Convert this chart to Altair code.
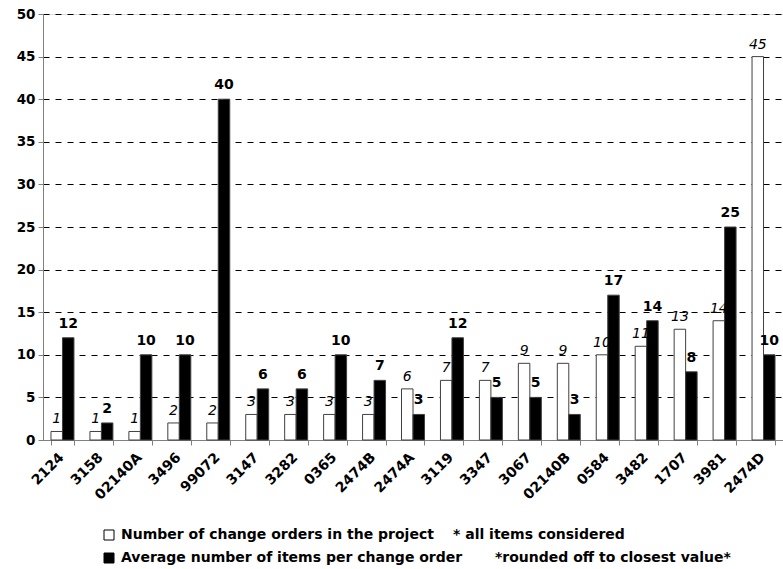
import altair as alt
import pandas as pd

projects = ["2124", "3158", "02140A", "3496", "99072", "3147", "3282", "0365", "2474B",
            "2474A", "3119", "3347", "3067", "02140B", "0584", "3482", "1707", "3981", "2474D"]
change_orders = [1, 1, 1, 2, 2, 3, 3, 3, 3, 6, 7, 7, 9, 9, 10, 11, 13, 14, 45]
items_per_order = [12, 2, 10, 10, 40, 6, 6, 10, 7, 3, 12, 5, 5, 3, 17, 14, 8, 25, 10]

s1 = "Number of change orders in the project"
s2 = "Average number of items per change order"
note1 = "* all items considered"
note2 = "*rounded off to closest value*"

rows = []
for p, a, b in zip(projects, change_orders, items_per_order):
    rows.append({"project": p, "series": s1, "value": a})
    rows.append({"project": p, "series": s2, "value": b})
df = pd.DataFrame(rows)

FONT = "DejaVu Sans"
FS = 14

x = alt.X("project:N", sort=projects, title=None,
          scale=alt.Scale(paddingInner=0.41, paddingOuter=0.205),
          axis=alt.Axis(labelAngle=-45, labelFont=FONT, labelFontSize=FS, labelFontWeight="bold",
                        labelColor="black", domainColor="#808080", tickColor="#808080",
                        tickBand="extent", tickSize=5, labelPadding=5, labelOffset=-6,
                        labelAlign="right", labelBaseline="top"))
xo = alt.XOffset("series:N", sort=[s1, s2], scale=alt.Scale(paddingInner=0, paddingOuter=0))
y = alt.Y("value:Q", title=None,
          scale=alt.Scale(domain=[0, 50], nice=False),
          axis=alt.Axis(values=list(range(0, 55, 5)), labelFont=FONT, labelFontSize=13.5,
                        labelFontWeight="bold", labelColor="black", domainColor="#808080",
                        tickColor="#808080", tickSize=5, gridColor="black", gridDash=[6, 6],
                        gridWidth=1, labelPadding=3))

base = alt.Chart(df)

bars = base.mark_bar(stroke="#404040", strokeWidth=1).encode(
    x=x, xOffset=xo, y=y,
    color=alt.Color("series:N", sort=[s1, s2],
                    scale=alt.Scale(domain=[s1, s2], range=["white", "black"]),
                    legend=alt.Legend(title=None, orient="none", legendX=59, legendY=514,
                                      direction="vertical", symbolType="square", symbolSize=100,
                                      symbolStrokeColor="black", symbolStrokeWidth=1,
                                      labelFont=FONT, labelFontSize=FS, labelFontWeight="bold",
                                      labelColor="black", rowPadding=9, padding=0,
                                      labelLimit=500, labelOffset=5)),
)

# white-bar counts in italics, black-bar averages in bold
lab1 = base.transform_filter(alt.datum.series == s1).mark_text(
    font=FONT, fontSize=FS, fontStyle="italic", baseline="alphabetic", dy=-8, color="black"
).encode(x=x, xOffset=xo, y=y, text="value:Q")

lab2 = base.transform_filter(alt.datum.series == s2).mark_text(
    font=FONT, fontSize=FS, fontWeight="bold", baseline="alphabetic", dy=-10, color="black"
).encode(x=x, xOffset=xo, y=y, text="value:Q")

notes = alt.Chart(pd.DataFrame({"t": [note1, note2], "px": [410, 452], "py": [521, 544]})).mark_text(
    font=FONT, fontSize=FS, fontWeight="bold", align="left", baseline="middle", color="black"
).encode(x=alt.X("px:Q", scale=None), y=alt.Y("py:Q", scale=None), text="t:N")

chart = alt.layer(bars, lab1, lab2, notes).properties(
    width=740, height=426,
    padding={"left": 43, "top": 14, "right": 0, "bottom": 129},
    autosize="none",
).configure_view(stroke=None).configure(background="white")

chart.save("out.html", embed_options={"renderer": "svg", "actions": False})
